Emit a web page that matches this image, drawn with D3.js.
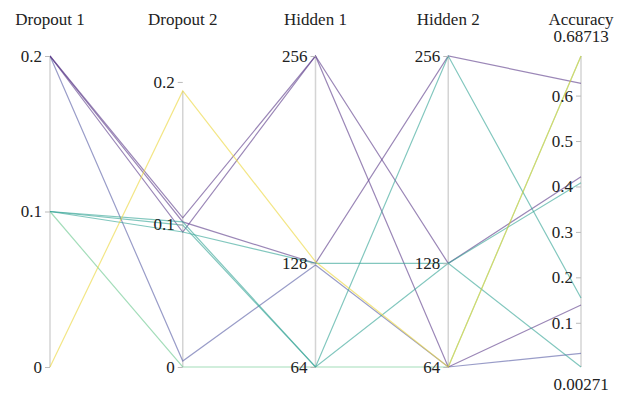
<!DOCTYPE html>
<html>
<head>
<meta charset="utf-8">
<script src="https://cdn.jsdelivr.net/npm/d3@7"></script>
<style>
  html, body { margin: 0; padding: 0; background: #fff; }
  svg { display: block; }
  text { font-family: "Liberation Serif", "DejaVu Serif", serif; fill: #222; }
</style>
</head>
<body>
<svg id="chart" width="624" height="394"></svg>
<script>
// Dimensions of the parallel-coordinates plot
const dimensions = ["Dropout 1", "Dropout 2", "Hidden 1", "Hidden 2", "Accuracy"];

// One entry per training run
const dropout1 = [0.1,  0.2,    0.2,    0.2,    0.2,    0.1,    0.1,    0.1,    0];
const dropout2 = [0,    0.0042, 0.1046, 0.0947, 0.1018, 0.0996, 0.1018, 0.0947, 0.1937];
const hidden1  = [64,   127,    256,    256,    128,    64,     64,     128,    129];
const hidden2  = [64,   64,     128,    64,     256,    256,    128,    128,    64];
const accuracy = [0.68713, 0.0328, 0.4215, 0.139, 0.627, 0.1546, 0.00271, 0.408, 0.68713];
const runGroup = [3,    1,      0,      0,      0,      2,      2,      2,      4];

// Axis ticks
const tickValues = {
  "Dropout 1": [0, 0.1, 0.2],
  "Dropout 2": [0, 0.1, 0.2],
  "Hidden 1": [64, 128, 256],
  "Hidden 2": [64, 128, 256],
  "Accuracy": [0.1, 0.2, 0.3, 0.4, 0.5, 0.6]
};

const palette = ["#5d3d8a", "#5b5fa6", "#35a596", "#6cc890", "#ecd63c"];

const rows = dropout1.map((d, i) => ({
  "Dropout 1": d,
  "Dropout 2": dropout2[i],
  "Hidden 1": hidden1[i],
  "Hidden 2": hidden2[i],
  "Accuracy": accuracy[i],
  group: runGroup[i]
}));

const plotTop = 56, plotBottom = 367;
const svg = d3.select("#chart");

const x = d3.scalePoint().domain(dimensions).range([50, 581]);

const domains = {
  "Dropout 1": [0, 0.2],
  "Dropout 2": [0, 0.2182],
  "Hidden 1": [64, 256],
  "Hidden 2": [64, 256],
  "Accuracy": d3.extent(accuracy)
};
const y = {};
dimensions.forEach(k => {
  y[k] = d3.scaleLinear().domain(domains[k]).range([plotBottom, plotTop]);
});

// Axis lines span the observed values of each dimension
const axisG = svg.append("g");
dimensions.forEach(k => {
  const ext = d3.extent(rows, r => r[k]);
  axisG.append("line")
    .attr("x1", x(k)).attr("x2", x(k))
    .attr("y1", y[k](ext[0])).attr("y2", y[k](ext[1]))
    .attr("stroke", "#d4d4d4").attr("stroke-width", 1.5);
});

// Polylines
const line = d3.line();
svg.append("g")
  .attr("fill", "none")
  .selectAll("path")
  .data(rows)
  .join("path")
  .attr("d", r => line(dimensions.map(k => [x(k), y[k](r[k])])))
  .attr("stroke", r => palette[r.group])
  .attr("stroke-opacity", 0.62)
  .attr("stroke-width", 1.2);

// Axes with ticks and labels
dimensions.forEach(k => {
  const g = svg.append("g")
    .attr("transform", `translate(${x(k)},0)`)
    .call(d3.axisLeft(y[k]).tickValues(tickValues[k]).tickFormat(d => String(d)).tickSize(5).tickPadding(3));
  g.select(".domain").remove();
  g.selectAll(".tick line").attr("stroke", "#bbb");
  g.selectAll(".tick text")
    .attr("font-family", "Liberation Serif")
    .attr("font-size", 17)
    .attr("fill", "#222");

  svg.append("text")
    .attr("x", x(k)).attr("y", 25)
    .attr("text-anchor", "middle")
    .attr("font-size", 17)
    .text(k);
});

// Extent labels for the accuracy axis
const accExt = d3.extent(accuracy);
svg.append("text")
  .attr("x", x("Accuracy")).attr("y", 42)
  .attr("text-anchor", "middle").attr("font-size", 17)
  .text(accExt[1].toFixed(5));
svg.append("text")
  .attr("x", x("Accuracy")).attr("y", 390)
  .attr("text-anchor", "middle").attr("font-size", 17)
  .text(accExt[0].toFixed(5));
</script>
</body>
</html>
